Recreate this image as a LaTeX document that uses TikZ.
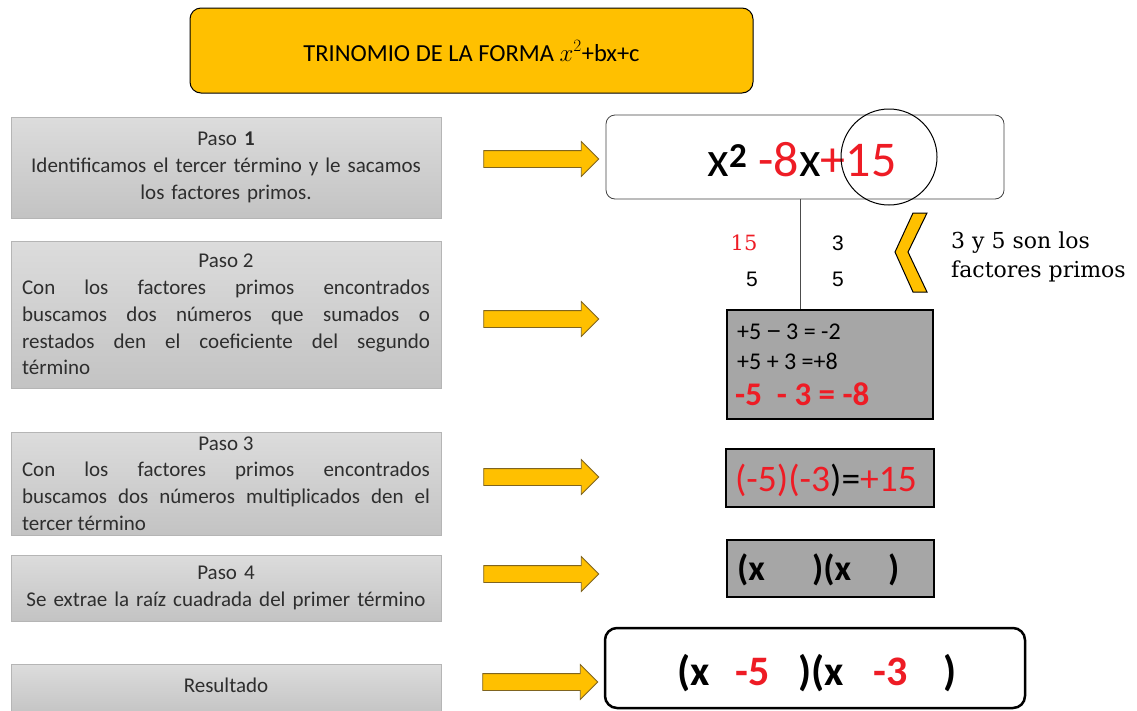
\documentclass[tikz,border=0pt]{standalone}
\usepackage{fontspec}
\setmainfont{Carlito}
\newfontfamily\slab{DejaVu Serif}
\newfontfamily\arial{Liberation Sans}
\usetikzlibrary{shapes.arrows}
\definecolor{gold}{HTML}{FFC000}
\definecolor{goldedge}{HTML}{7F6420}
\definecolor{redtxt}{HTML}{EE1C25}
\definecolor{midgray}{HTML}{A6A6A6}
\definecolor{lgtop}{HTML}{DCDCDC}
\definecolor{lgbot}{HTML}{C3C3C3}
\tikzset{
  titlebox/.style={draw=black, line width=1pt, fill=gold, rounded corners=11pt,
    minimum width=563pt, minimum height=85pt, inner sep=0pt},
  leftbox/.style={top color=lgtop, bottom color=lgbot, draw=lgbot!80!gray, line width=0.4pt,
    minimum width=430pt, inner xsep=11pt, inner ysep=0pt, text width=408pt,
    font=\fontsize{21}{26.8}\selectfont, text=black!82},
  blockarrow/.style={single arrow, draw=goldedge, line width=0.8pt, fill=gold,
    minimum height=115pt, minimum width=34pt, single arrow head extend=9pt,
    single arrow head indent=0pt, inner xsep=0pt, inner ysep=8pt},
  graybox/.style={draw=black, line width=1.3pt, fill=midgray, inner sep=0pt},
  plain/.style={inner sep=0pt}
}
\begin{document}
\begin{tikzpicture}[x=1pt,y=-1pt]
\useasboundingbox (0,0) rectangle (1137,710);
% title
\node[titlebox] (title) at (471.5,50.5) {};
\node[plain, font=\fontsize{24.5}{26}\selectfont] (titletxt) at (471.5,51) {TRINOMIO DE LA FORMA $x^{2}$+bx+c};
% left boxes
\node[leftbox, minimum height=101pt, align=center] (p1) at (226,167.5)
  {Paso \textbf{1}\\Identificamos el tercer término y le sacamos\\los factores primos.};
\node[leftbox, minimum height=147pt, align=justify] (p2) at (226,314.5)
  {\makebox[\linewidth]{Paso 2}\par
   Con los factores primos encontrados\linebreak buscamos dos números que sumados o\linebreak restados den el coeficiente del segundo\linebreak término};
\node[leftbox, minimum height=103pt, align=justify] (p3) at (226,483.5)
  {\makebox[\linewidth]{Paso 3}\par
   Con los factores primos encontrados\linebreak buscamos dos números multiplicados den el\linebreak tercer término};
\node[leftbox, minimum height=66pt, align=center] (p4) at (226,588)
  {Paso 4\\Se extrae la raíz cuadrada del primer término};
\node[leftbox, minimum height=52pt, align=center] (p5) at (226,690)
  {\raisebox{10pt}{Resultado}};
% arrows
\node[blockarrow] (a1) at (537,159) {};
\node[blockarrow] (a2) at (537,319) {};
\node[blockarrow] (a3) at (537,477) {};
\node[blockarrow] (a4) at (537,574) {};
\node[blockarrow] (a5) at (536,682) {};
% step 1 expression
\node[draw=black!75, line width=0.8pt, rounded corners=9pt, minimum width=398pt, minimum height=84pt] (b1) at (805,157) {};
\node[plain, font=\fontsize{50}{50}\selectfont] (b1txt) at (802,160)
  {x\textsuperscript{\textbf{2}} \textcolor{redtxt}{-8}x\textcolor{redtxt}{+15}};
\node[draw=black, line width=1pt, circle, minimum size=96pt, inner sep=0pt] (circ) at (889,157) {};
% factor column
\coordinate (vtop) at (800,199);
\coordinate (vbot) at (800,310);
\draw[black!70, line width=0.8pt] (vtop) -- (vbot);
\node[plain, font=\slab\fontsize{21}{21}\selectfont, text=redtxt] (n15) at (744,243) {15};
\node[plain, font=\arial\fontsize{21}{21}\selectfont] (n5a) at (752,279) {5};
\node[plain, font=\arial\fontsize{21}{21}\selectfont] (n3) at (838,243) {3};
\node[plain, font=\arial\fontsize{21}{21}\selectfont] (n5b) at (838,279) {5};
\draw[draw=black, line width=1pt, fill=gold, line join=miter]
  (913,213) -- (927,213) -- (908,252) -- (927,292) -- (913,292) -- (895,252) -- cycle;
\node[plain, font=\slab\fontsize{22}{29.5}\selectfont, align=left, anchor=west] (note) at (951,257)
  {3 y 5 son los\\factores primos};
% step 2 box
\node[graybox, minimum width=206pt, minimum height=109pt] (b2) at (830,364.5) {};
\node[plain, anchor=west, font=\fontsize{24}{24}\selectfont] (l1) at (737,332) {+5 {\arial−} 3 = -2};
\node[plain, anchor=west, font=\fontsize{24}{24}\selectfont] (l2) at (737,361) {+5 + 3 =+8};
\node[plain, anchor=west, font=\bfseries\fontsize{33}{33}\selectfont, text=redtxt] (l3) at (735,394) {-5\ \ - 3 = -8};
% step 3 box
\node[graybox, minimum width=208pt, minimum height=58pt] (b3) at (830,478) {};
\node[plain, font=\fontsize{37.5}{37.5}\selectfont] (b3txt) at (826,480)
  {\textcolor{redtxt}{(-5)(-3}){=}\textcolor{redtxt}{+15}};
% step 4 box
\node[graybox, minimum width=207pt, minimum height=57pt] (b4) at (830.5,568.5) {};
\node[plain, anchor=west, font=\bfseries\fontsize{36}{36}\selectfont] (b4txt) at (737,570)
  {\makebox[75pt][l]{(x}\makebox[76pt][l]{)(x})};
% result box
\node[draw=black, line width=2.5pt, rounded corners=12pt, minimum width=420pt, minimum height=80pt] (b5) at (815,668) {};
\node[plain, anchor=west, font=\bfseries\fontsize{42}{42}\selectfont] (b5txt) at (677,673)
  {\makebox[58pt][l]{(x}\makebox[63pt][l]{\textcolor{redtxt}{-5}}\makebox[75pt][l]{)(x}\makebox[70pt][l]{\textcolor{redtxt}{-3}})};
\end{tikzpicture}
\end{document}
